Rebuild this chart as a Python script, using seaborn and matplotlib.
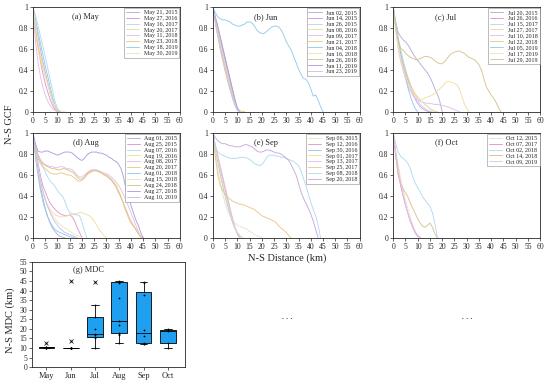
import matplotlib
matplotlib.use("Agg")
import matplotlib.pyplot as plt
import seaborn as sns
import pandas as pd
import numpy as np

# sampling interval of the GCF curves (km)
STEP_KM = 1.0

may_gcf = {
    'May 21, 2015': [1, .86, .72, .6, .48, .38, .28, .19, .11, .05, .01, 0],
    'May 27, 2016': [1, .8, .63, .49, .37, .27, .19, .12, .06, .02, 0],
    'May 16, 2017': [1, .92, .83, .73, .63, .53, .42, .31, .2, .1, .03, 0],
    'May 20, 2017': [1, .76, .6, .5, .42, .34, .26, .18, .11, .05, .01, 0],
    'May 11, 2018': [1, .68, .48, .34, .24, .16, .1, .06, .03, .01, 0],
    'May 23, 2018': [1, .8, .64, .53, .44, .36, .27, .18, .1, .04, .01, 0],
    'May 18, 2019': [1, .88, .77, .66, .55, .44, .34, .24, .14, .06, .02, 0],
    'May 30, 2019': [1, .84, .69, .56, .45, .35, .26, .18, .11, .05, .02, .01, .005, 0],
}

jun_gcf = {
    'Jun 02, 2015': [1, .88, .77, .67, .57, .47, .37, .27, .17, .08, .02, 0],
    'Jun 14, 2015': [1, .9, .8, .7, .6, .5, .4, .3, .2, .1, .02, 0],
    'Jun 26, 2015': [1, .86, .73, .61, .5, .4, .3, .21, .13, .06, .01, 0],
    'Jun 08, 2016': [1, .87, .75, .64, .54, .44, .34, .24, .15, .07, .02, 0],
    'Jun 09, 2017': [1, .89, .78, .68, .58, .48, .38, .28, .18, .09, .02, 0],
    'Jun 21, 2017': [1, .85, .72, .6, .49, .39, .3, .22, .14, .07, .03, .01, .005, 0],
    'Jun 04, 2018': [1, .95, .91, .89, .88, .88, .87, .86, .84, .83, .82, .82, .83, .84, .86, .86,
                     .85, .82, .78, .76, .75, .75, .77, .79, .81, .82, .82, .81, .78, .73, .67, .63,
                     .59, .53, .47, .41, .36, .32, .31, .28, .22, .15, .16, .11, .05, 0],
    'Jun 16, 2018': [1, .88, .76, .65, .55, .45, .35, .25, .16, .08, .02, 0],
    'Jun 26, 2018': [1, .9, .81, .71, .61, .51, .41, .31, .21, .11, .03, 0],
    'Jun 11, 2019': [1, .91, .82, .72, .62, .52, .42, .32, .22, .12, .04, 0],
    'Jun 23, 2019': [1, .87, .74, .63, .53, .43, .33, .24, .15, .07, .02, 0],
}

jul_gcf = {
    'Jul 20, 2015': [1, .86, .76, .72, .69, .67, .64, .6, .56, .52, .49, .46, .43, .4, .37, .33,
                     .28, .22, .17, .1, 0],
    'Jul 26, 2016': [1, .82, .67, .55, .45, .37, .3, .23, .17, .12, .08, .05, .03, .015, .005, 0],
    'Jul 15, 2017': [1, .85, .72, .6, .5, .41, .33, .26, .2, .15, .11, .07, .05, .03, .015, .005, 0],
    'Jul 27, 2017': [1, .78, .6, .48, .4, .33, .27, .22, .18, .15, .13, .12, .12, .13, .14, .15,
                     .16, .18, .2, .22, .24, .27, .29, .29, .28, .27, .26, .22, .15, .08, .03, 0],
    'Jul 10, 2018': [1, .8, .63, .5, .4, .32, .25, .2, .16, .13, .11, .1, .09, .085, .08, .08,
                     .075, .07, .07, .065, .06, .055, .05, .04, .03, .02, .01, 0],
    'Jul 22, 2018': [1, .83, .69, .57, .47, .39, .32, .26, .21, .17, .14, .11, .09, .07, .05, .03,
                     .015, .005, 0],
    'Jul 05, 2019': [1, .84, .69, .56, .44, .33, .23, .15, .08, .03, 0],
    'Jul 17, 2019': [1, .8, .64, .52, .42, .34, .28, .23, .19, .16, .13, .11, .09, .07, .05, .03, .01, 0],
    'Jul 29, 2019': [1, .82, .68, .61, .59, .56, .54, .52, .51, .5, .5, .51, .52, .53, .53, .52,
                     .51, .49, .47, .46, .46, .48, .51, .54, .56, .57, .58, .58, .57, .56, .54, .52,
                     .51, .5, .48, .45, .4, .32, .24, .2, .16, .13, .09, .04, 0],
}

aug_gcf = {
    'Aug 01, 2015': [1, .8, .64, .5, .38, .28, .2, .14, .09, .06, .03, .015, .005, 0],
    'Aug 25, 2015': [1, .85, .72, .6, .5, .44, .38, .33, .3, .27, .25, .23, .22, .21, .21, .22,
                     .2, .16, .1, .05, 0],
    'Aug 07, 2016': [1, .88, .8, .74, .68, .63, .58, .54, .52, .49, .45, .42, .4, .35, .28, .24,
                     .23, .22, .22, .21, .15, .07, 0],
    'Aug 19, 2016': [1, .8, .64, .52, .43, .36, .31, .27, .24, .22, .21, .2, .2, .2, .21, .22,
                     .22, .23, .23, .24, .24, .23, .22, .21, .19, .16, .12, .08, .05, .02, 0],
    'Aug 08, 2017': [1, .88, .8, .75, .72, .7, .69, .68, .68, .67, .67, .68, .68, .67, .66, .66,
                     .65, .63, .6, .58, .58, .6, .62, .64, .65, .65, .65, .64, .63, .62, .61, .6,
                     .58, .56, .53, .5, .46, .41, .36, .3, .24, .18, .12, .06, 0],
    'Aug 20, 2017': [1, .85, .76, .71, .68, .66, .64, .62, .61, .61, .61, .62, .62, .61, .6, .6,
                     .59, .57, .55, .54, .55, .57, .6, .62, .63, .64, .64, .63, .62, .61, .6, .58,
                     .56, .53, .5, .45, .39, .32, .25, .19, .14, .11, .08, .04, .02, 0],
    'Aug 01, 2018': [1, .78, .6, .46, .35, .27, .2, .15, .11, .08, .06, .05, .04, .03, .02, .01, .005, 0],
    'Aug 15, 2018': [1, .83, .68, .55, .44, .36, .3, .25, .21, .18, .15, .13, .11, .09, .08, .06,
                     .05, .03, .02, .01, 0],
    'Aug 24, 2018': [1, .86, .78, .73, .71, .69, .68, .67, .66, .66, .65, .65, .66, .66, .65, .64,
                     .63, .61, .58, .56, .56, .58, .61, .63, .64, .65, .64, .63, .62, .6, .59, .57,
                     .55, .52, .48, .43, .38, .33, .27, .21, .16, .12, .08, .04, .01, 0],
    'Aug 27, 2018': [1, .9, .83, .82, .82, .83, .83, .82, .81, .8, .79, .8, .81, .82, .82, .82,
                     .81, .79, .77, .75, .74, .76, .79, .81, .82, .82, .82, .81, .81, .8, .79, .77,
                     .76, .74, .73, .7, .66, .58, .46, .38, .31, .24, .17, .12, .05, 0],
    'Aug 10, 2019': [1, .82, .67, .55, .45, .37, .3, .24, .19, .15, .12, .09, .07, .05, .04, .03, .02, .01, 0],
}

sep_gcf = {
    'Sep 06, 2015': [1, .82, .66, .53, .42, .33, .26, .21, .17, .14, .12, .11, .1, .09, .08, .06,
                     .05, .03, .02, .01, 0],
    'Sep 12, 2016': [1, .88, .77, .67, .57, .47, .37, .27, .18, .1, .04, 0],
    'Sep 30, 2016': [1, .86, .73, .61, .5, .4, .31, .23, .15, .09, .05, .02, 0],
    'Sep 01, 2017': [1, .87, .75, .64, .53, .43, .34, .25, .17, .1, .05, .02, 0],
    'Sep 13, 2017': [1, .89, .79, .69, .59, .49, .39, .29, .19, .1, .03, 0],
    'Sep 25, 2017': [1, .78, .6, .5, .45, .42, .39, .37, .35, .34, .33, .32, .32, .31, .3, .29,
                     .28, .27, .25, .23, .21, .2, .19, .18, .17, .16, .14, .11, .09, .07, .05, .02, 0],
    'Sep 08, 2018': [1, .88, .82, .8, .79, .78, .77, .76, .76, .76, .76, .77, .77, .77, .76, .75,
                     .73, .71, .7, .69, .7, .73, .77, .79, .79, .79, .78, .78, .77, .77, .76, .75,
                     .74, .73, .71, .69, .64, .57, .5, .42, .34, .27, .21, .12, 0],
    'Sep 20, 2018': [1, .96, .93, .91, .9, .9, .89, .88, .88, .87, .87, .87, .88, .89, .89, .88,
                     .87, .85, .83, .82, .82, .83, .84, .84, .83, .82, .81, .81, .8, .78, .76, .74,
                     .7, .65, .6, .52, .44, .38, .33, .28, .23, .16, .08, 0],
}

oct_gcf = {
    'Oct 12, 2015': [1, .84, .7, .57, .46, .36, .27, .19, .12, .06, .02, 0],
    'Oct 07, 2017': [1, .8, .62, .5, .4, .31, .23, .16, .1, .05, .02, 0],
    'Oct 02, 2018': [1, .9, .82, .78, .76, .74, .71, .66, .58, .52, .48, .44, .39, .36, .33, .3, .24, .14, 0],
    'Oct 14, 2018': [1, .78, .6, .52, .47, .43, .39, .33, .28, .23, .18, .14, .11, .1, .12, .14, .1, .04, 0],
    'Oct 09, 2019': [1, .82, .66, .53, .42, .32, .23, .15, .09, .04, .01, 0],
}

# minimum decorrelation distance per month (km)
MONTHS = ['May', 'Jun', 'Jul', 'Aug', 'Sep', 'Oct']
mdc_may = [10, 10, 10, 10, 10.5, 10.5, 10.5, 12.5]
mdc_jun = [10, 10, 10, 10, 10, 10, 10, 10, 10, 13.5, 45]
mdc_jul = [10, 15, 15.5, 17, 17.5, 20, 26.3, 32.5, 44.5]
mdc_aug = [12.5, 17, 17.5, 18, 22, 24, 36, 44, 44.5, 44.5, 45]
mdc_sep = [12, 12.2, 12.5, 16, 19.5, 37.5, 44, 44.5]
mdc_oct = [10, 12.5, 19, 19.2, 19.7]

# pale pastel line colours, roughly in legend order
SLATE, MAGENTA, LBLUE, YELLOW = '#b4aed8', '#df98d4', '#b3daf2', '#f1df9e'
LAVENDER, ORANGE, BLUE, PALE = '#e3c0ec', '#ecc78c', '#93cbef', '#ece3c2'
OLIVE, PURPLE, LPURPLE = '#d6c48e', '#ad9fe0', '#c9c1ee'
PALETTE = [SLATE, MAGENTA, LBLUE, YELLOW, LAVENDER, ORANGE, BLUE, PALE, OLIVE, PURPLE, LPURPLE]
SEP_PALETTE = [PALE, MAGENTA, BLUE, YELLOW, LAVENDER, ORANGE, LBLUE, '#c9a9d9']
BOX_COLOR = '#1e9ff0'

sns.set_style('ticks')
plt.rcParams['font.family'] = ['Liberation Serif', 'DejaVu Serif']
plt.rcParams['axes.linewidth'] = 0.6
plt.rcParams['xtick.major.size'] = 2
plt.rcParams['ytick.major.size'] = 2
plt.rcParams['xtick.major.width'] = 0.5
plt.rcParams['ytick.major.width'] = 0.5
plt.rcParams['xtick.major.pad'] = 1.5
plt.rcParams['ytick.major.pad'] = 1.5

fig = plt.figure(figsize=(5.5, 3.84), dpi=100)

lefts = [0.06, 0.387, 0.715]
bottoms = [0.709, 0.381]
W, H = 0.267, 0.272

panels = [('(a) May', may_gcf, PALETTE), ('(b) Jun', jun_gcf, PALETTE),
          ('(c) Jul', jul_gcf, PALETTE), ('(d) Aug', aug_gcf, PALETTE),
          ('(e) Sep', sep_gcf, SEP_PALETTE), ('(f) Oct', oct_gcf, [PALE, MAGENTA, LBLUE, OLIVE, LAVENDER])]

gcf_ticks = [0, 0.2, 0.4, 0.6, 0.8, 1]
dist_ticks = list(range(0, 61, 5))

for k, (tag, curves, pal) in enumerate(panels):
    ax = fig.add_axes([lefts[k % 3], bottoms[k // 3], W, H])
    rows = []
    for name, vals in curves.items():
        for i, v in enumerate(vals):
            rows.append((name, i * STEP_KM, v))
    df = pd.DataFrame(rows, columns=['date', 'dist', 'gcf'])
    sns.lineplot(data=df, x='dist', y='gcf', hue='date', hue_order=list(curves),
                 palette=pal[:len(curves)], estimator=None, linewidth=0.65, ax=ax)
    sns.move_legend(ax, 'upper right', title=None, fontsize=4.3, frameon=True,
                    fancybox=False, edgecolor='#8a8a8a', framealpha=1, borderaxespad=0.1,
                    handlelength=2.2, labelspacing=0.12, borderpad=0.3, handletextpad=0.8)
    ax.get_legend().get_frame().set_linewidth(0.4)
    ax.set_xlim(0, 60)
    ax.set_ylim(0, 1)
    ax.set_xticks(dist_ticks)
    ax.set_xticklabels([str(t) for t in dist_ticks], fontsize=5.5)
    ax.set_yticks(gcf_ticks)
    ax.set_yticklabels(['%g' % t for t in gcf_ticks], fontsize=5.5)
    ax.set_xlabel('')
    ax.set_ylabel('')
    ax.text(0.36, 0.91, tag, transform=ax.transAxes, ha='center', va='center', fontsize=6)

# (g) MDC box plot
axg = fig.add_axes([0.058, 0.044, 0.278, 0.274])
mdc = pd.DataFrame({
    'month': sum([[m] * len(v) for m, v in zip(MONTHS, [mdc_may, mdc_jun, mdc_jul,
                                                         mdc_aug, mdc_sep, mdc_oct])], []),
    'mdc': mdc_may + mdc_jun + mdc_jul + mdc_aug + mdc_sep + mdc_oct,
})
sns.boxplot(data=mdc, x='month', y='mdc', order=MONTHS, color=BOX_COLOR, saturation=1,
            width=0.65, linewidth=0.6, linecolor='black', fliersize=2.5,
            flierprops=dict(marker='x', markeredgewidth=0.5), ax=axg)
sns.stripplot(data=mdc, x='month', y='mdc', order=MONTHS, color='black', size=1.3,
              jitter=False, ax=axg)
axg.set_xlim(-0.6, 5.7)
axg.set_ylim(0, 55)
mdc_ticks = list(range(0, 56, 5))
axg.set_yticks(mdc_ticks)
axg.set_yticklabels([str(t) for t in mdc_ticks], fontsize=5.5)
axg.tick_params(axis='x', labelsize=6)
axg.set_xlabel('')
axg.set_ylabel('')
axg.text(0.37, 0.92, '(g) MDC', transform=axg.transAxes, ha='center', va='center', fontsize=6)

fig.text(0.018, 0.677, 'N-S GCF', rotation=90, ha='center', va='center', fontsize=7.5)
fig.text(0.522, 0.328, 'N-S Distance (km)', ha='center', va='center', fontsize=7.5)
fig.text(0.018, 0.165, 'N-S MDC (km)', rotation=90, ha='center', va='center', fontsize=7.5)
fig.text(0.522, 0.17, '\u2022  \u2022  \u2022', ha='center', va='center', fontsize=3.5)
fig.text(0.849, 0.17, '\u2022  \u2022  \u2022', ha='center', va='center', fontsize=3.5)

fig.savefig('out.png', dpi=100)
